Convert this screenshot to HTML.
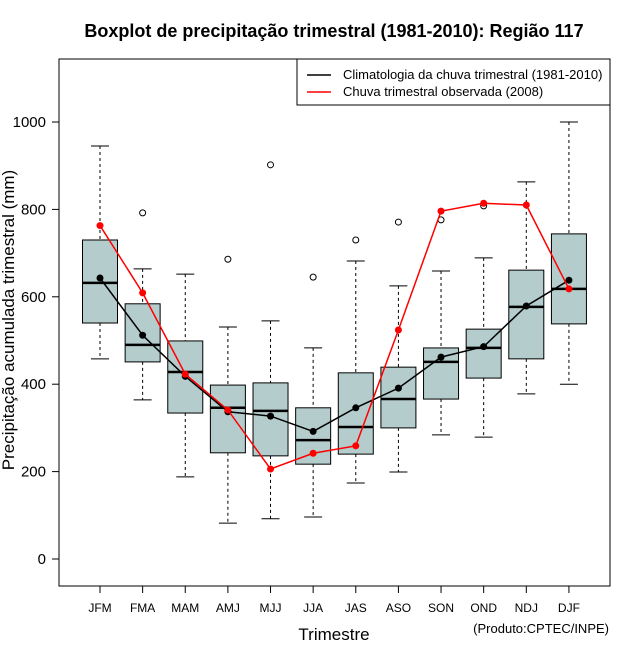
<!DOCTYPE html>
<html><head><meta charset="utf-8"><style>
body{margin:0;background:#fff;}
svg{display:block;font-family:"Liberation Sans",sans-serif;}
</style></head><body>
<svg id="c" width="640" height="660" xmlns="http://www.w3.org/2000/svg">
<text x="334" y="37" text-anchor="middle" font-size="18" font-weight="bold">Boxplot de precipitação trimestral (1981-2010): Região 117</text>
<rect x="59" y="59" width="551" height="527" fill="none" stroke="#000"/>
<text transform="translate(14,320) rotate(-90)" text-anchor="middle" font-size="17">Precipitação acumulada trimestral (mm)</text>
<text x="334" y="640" text-anchor="middle" font-size="17">Trimestre</text>
<text x="609" y="633" text-anchor="end" font-size="13">(Produto:CPTEC/INPE)</text>
<g id="marks"></g>
<g>
<rect x="297" y="59" width="313" height="46" fill="#fff" stroke="#000"/>
<line x1="307" y1="75" x2="331" y2="75" stroke="#000" stroke-width="1.5"/>
<text x="343" y="79" font-size="13">Climatologia da chuva trimestral (1981-2010)</text>
<line x1="307" y1="92" x2="331" y2="92" stroke="red" stroke-width="1.5"/>
<text x="343" y="96" font-size="13">Chuva trimestral observada (2008)</text>
</g>
</svg>
<script>
const categories=["JFM","FMA","MAM","AMJ","MJJ","JJA","JAS","ASO","SON","OND","NDJ","DJF"];
const whiskerLow=[458,364,188,82,92,96,174,199,284,279,378,400];
const q1=[540,451,334,243,236,217,240,300,366,414,458,538];
const median=[632,490,428,346,339,272,302,366,451,483,577,618];
const q3=[730,584,499,398,403,346,426,439,483,526,661,744];
const whiskerHigh=[945,664,652,531,545,483,682,625,659,689,863,1000];
const outliers=[null,792,null,686,902,645,730,771,776,808,null,null];
const climatology=[643,512,418,337,327,292,346,391,462,486,579,638];
const observed=[763,609,423,341,206,242,259,524,796,814,810,618];
const yTicks=[0,200,400,600,800,1000];

const svg=document.getElementById('c');
const g=document.getElementById('marks');
const NS="http://www.w3.org/2000/svg";
function y(v){return 559-v*0.437;}
function x(i){return 100+i*42.63;}
function mk(t,a){const e=document.createElementNS(NS,t);for(const k in a)e.setAttribute(k,a[k]);g.appendChild(e);return e;}

yTicks.forEach(v=>{
  const l=mk('line',{x1:52,x2:59,y1:y(v),y2:y(v),stroke:'#000'});
  
  
  const t=mk('text',{x:46,y:y(v)+5,'text-anchor':'end','font-size':15});
  t.textContent=v;
  
  
});
categories.forEach((c,i)=>{
  const cx=x(i);
  const t=mk('line',{x1:cx,x2:cx,y1:586,y2:593,stroke:'#000'});
  
  
  const lb=mk('text',{x:cx,y:612,'text-anchor':'middle','font-size':12});
  lb.textContent=c;
  
  
  const w1=mk('line',{x1:cx,x2:cx,y1:y(whiskerHigh[i]),y2:y(q3[i]),stroke:'#000','stroke-dasharray':'3,3'});
  
  
  const w2=mk('line',{x1:cx,x2:cx,y1:y(q1[i]),y2:y(whiskerLow[i]),stroke:'#000','stroke-dasharray':'3,3'});
  
  
  const c1=mk('line',{x1:cx-9,x2:cx+9,y1:y(whiskerHigh[i]),y2:y(whiskerHigh[i]),stroke:'#000'});
  
  
  const c2=mk('line',{x1:cx-9,x2:cx+9,y1:y(whiskerLow[i]),y2:y(whiskerLow[i]),stroke:'#000'});
  
  
  const b=mk('rect',{x:cx-17.5,y:y(q3[i]),width:35,height:y(q1[i])-y(q3[i]),fill:'#b5cccc',stroke:'#000'});
  
  
  const m=mk('line',{x1:cx-17.5,x2:cx+17.5,y1:y(median[i]),y2:y(median[i]),stroke:'#000','stroke-width':2.5});
  
  
  if(outliers[i]!=null){
    const o=mk('circle',{cx:cx,cy:y(outliers[i]),r:3,fill:'none',stroke:'#000'});
    
    
  }
});
function series(vals,col,name){
  const p=mk('polyline',{points:vals.map((v,i)=>x(i)+','+y(v)).join(' '),fill:'none',stroke:col,'stroke-width':1.5});
  
  
  vals.forEach((v,i)=>{
    const d=mk('circle',{cx:x(i),cy:y(v),r:3.5,fill:col});
    
    
  });
}
series(climatology,'#000','climatology');
series(observed,'red','observed');
</script>
</body></html>
